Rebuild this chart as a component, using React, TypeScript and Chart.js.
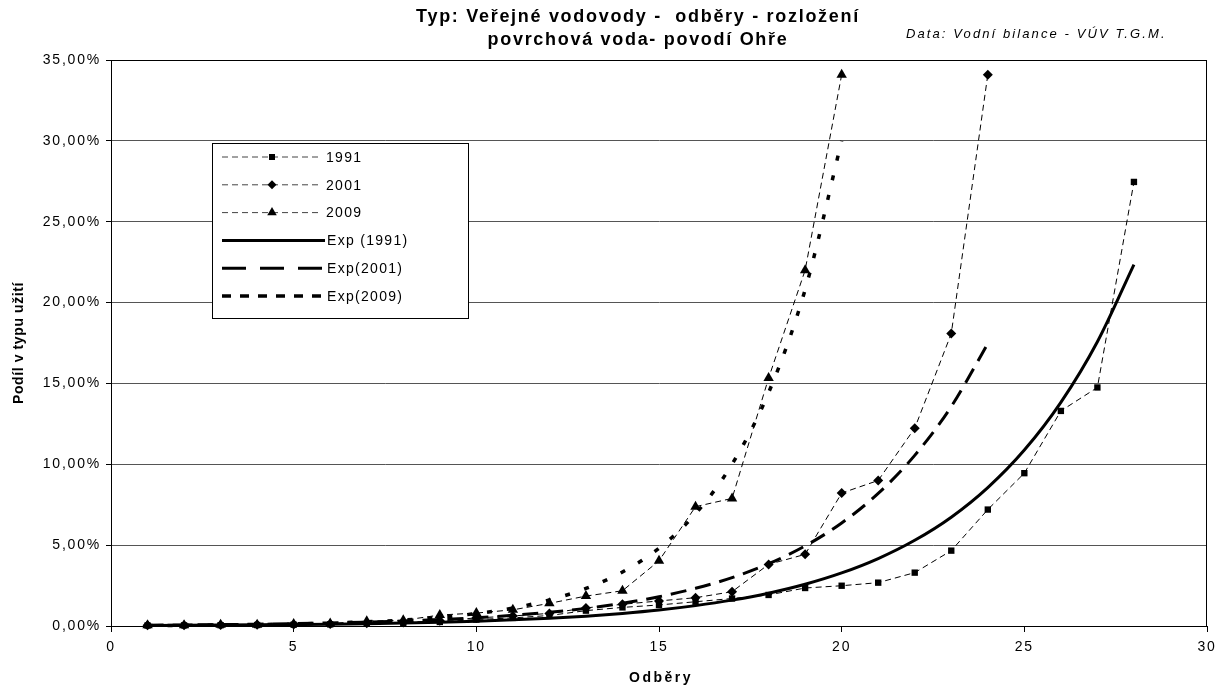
import React, { useEffect, useRef } from "react";
import { Chart, registerables } from "chart.js";

Chart.register(...registerables);

// Odběry (x positions)
const odbery = [1, 2, 3, 4, 5, 6, 7, 8, 9, 10, 11, 12, 13, 14, 15, 16, 17, 18, 19, 20, 21, 22, 23, 24, 25, 26, 27, 28];

// Podíl v typu užití [%]
const values1991 = [0.03, 0.04, 0.05, 0.06, 0.08, 0.1, 0.14, 0.18, 0.25, 0.4, 0.5, 0.65, 0.95, 1.15, 1.3, 1.5, 1.7, 1.92, 2.35, 2.49, 2.68, 3.3, 4.66, 7.2, 9.45, 13.3, 14.75, 27.46];
const values2001 = [0.04, 0.05, 0.06, 0.08, 0.1, 0.13, 0.17, 0.22, 0.32, 0.5, 0.62, 0.78, 1.12, 1.34, 1.55, 1.75, 2.12, 3.81, 4.43, 8.22, 9.0, 12.23, 18.08, 34.09];
const values2009 = [0.05, 0.05, 0.07, 0.08, 0.12, 0.16, 0.3, 0.35, 0.68, 0.8, 1.0, 1.4, 1.85, 2.18, 4.03, 7.38, 7.89, 15.33, 22.0, 34.09];

// Exponential trend lines
const exp1991 = [0.034, 0.043, 0.055, 0.07, 0.089, 0.11, 0.14, 0.18, 0.23, 0.3, 0.38, 0.48, 0.61, 0.78, 0.99, 1.26, 1.6, 2.03, 2.58, 3.28, 4.17, 5.3, 6.73, 8.56, 10.88, 13.83, 17.58, 22.35];
const exp2001 = [0.053, 0.069, 0.088, 0.114, 0.146, 0.19, 0.24, 0.31, 0.4, 0.51, 0.66, 0.85, 1.09, 1.41, 1.81, 2.33, 2.99, 3.85, 4.95, 6.37, 8.2, 10.55, 13.57, 17.46];
const exp2009 = [0.029, 0.042, 0.06, 0.087, 0.125, 0.18, 0.26, 0.37, 0.54, 0.77, 1.11, 1.61, 2.32, 3.34, 4.81, 6.94, 10.01, 14.43, 20.8, 30.0];

const seriesLabels = ["1991", "2001", "2009", "Exp (1991)", "Exp(2001)", "Exp(2009)"];
const xTicks = [0, 5, 10, 15, 20, 25, 30];
const yTicks = [0, 5, 10, 15, 20, 25, 30, 35];

const titleLine1 = "Typ: Veřejné vodovody -  odběry - rozložení";
const titleLine2 = "povrchová voda- povodí Ohře";
const sourceText = "Data: Vodní bilance - VÚV T.G.M.";
const xTitle = "Odběry";
const yTitle = "Podíl v typu užití";

const FONT = "'Liberation Sans', Arial, sans-serif";

const toPoints = (vals: number[]) => vals.map((v, i) => ({ x: odbery[i], y: v }));

type Sty = { dash: number[]; width: number; marker: string | null; legendDash: number[] };
const styles: Sty[] = [
  { dash: [6, 4], width: 1, marker: "rect", legendDash: [6, 4] },
  { dash: [6, 4], width: 1, marker: "rectRot", legendDash: [6, 4] },
  { dash: [6, 4], width: 1, marker: "triangle", legendDash: [6, 4] },
  { dash: [], width: 3, marker: null, legendDash: [] },
  { dash: [16, 9], width: 3, marker: null, legendDash: [24, 14] },
  { dash: [5, 15], width: 3.5, marker: null, legendDash: [9, 9] },
];

function drawMarker(ctx: CanvasRenderingContext2D, kind: string, x: number, y: number) {
  ctx.beginPath();
  if (kind === "rect") {
    ctx.rect(x - 3, y - 3, 6, 6);
  } else if (kind === "rectRot") {
    ctx.moveTo(x - 4.5, y);
    ctx.lineTo(x, y - 4.5);
    ctx.lineTo(x + 4.5, y);
    ctx.lineTo(x, y + 4.5);
    ctx.closePath();
  } else {
    const r = 5.5;
    ctx.moveTo(x, y - r);
    ctx.lineTo(x + r * 0.866, y + r * 0.5);
    ctx.lineTo(x - r * 0.866, y + r * 0.5);
    ctx.closePath();
  }
  ctx.fill();
}

const customPlugin = {
  id: "customDecor",
  beforeDraw(chart: any) {
    const ctx = chart.ctx as CanvasRenderingContext2D;
    ctx.save();
    ctx.fillStyle = "#fff";
    ctx.fillRect(0, 0, chart.width, chart.height);
    ctx.restore();
    (ctx as any).letterSpacing = "1.8px";
  },
  afterDraw(chart: any) {
    const ctx = chart.ctx as CanvasRenderingContext2D;
    const a = chart.chartArea;
    ctx.save();
    // plot frame
    ctx.strokeStyle = "#000";
    ctx.lineWidth = 1;
    ctx.setLineDash([]);
    ctx.strokeRect(Math.round(a.left) + 0.5, Math.round(a.top) + 0.5, Math.round(a.right - a.left) - 1, Math.round(a.bottom - a.top));

    // legend
    const lx = 212.5, ly = 143.5, lw = 256, lh = 175;
    ctx.fillStyle = "#fff";
    ctx.fillRect(lx, ly, lw, lh);
    ctx.strokeRect(lx, ly, lw, lh);
    ctx.textAlign = "left";
    ctx.textBaseline = "middle";
    ctx.font = `14px ${FONT}`;
    (ctx as any).letterSpacing = "1.3px";
    seriesLabels.forEach((lab, i) => {
      const st = styles[i];
      const y = 157 + i * 27.8;
      ctx.strokeStyle = st.marker ? "#444" : "#000";
      ctx.lineWidth = st.width;
      ctx.setLineDash(st.legendDash);
      ctx.lineDashOffset = 0;
      ctx.beginPath();
      ctx.moveTo(222, y);
      ctx.lineTo(st.marker ? 322 : 325, y);
      ctx.stroke();
      ctx.setLineDash([]);
      if (st.marker) {
        ctx.fillStyle = "#000";
        drawMarker(ctx, st.marker, 272, y);
      }
      ctx.fillStyle = "#000";
      ctx.fillText(lab, st.marker ? 326 : 327, y + 1);
    });

    // titles
    ctx.fillStyle = "#000";
    ctx.textAlign = "center";
    ctx.font = `bold 18px ${FONT}`;
    (ctx as any).letterSpacing = "1.7px";
    ctx.fillText(titleLine1, 638, 17);
    ctx.fillText(titleLine2, 638, 40);

    ctx.textAlign = "left";
    ctx.font = `italic 13px ${FONT}`;
    (ctx as any).letterSpacing = "2.1px";
    ctx.fillText(sourceText, 906, 34);

    // axis titles
    ctx.textAlign = "center";
    ctx.font = `bold 14px ${FONT}`;
    (ctx as any).letterSpacing = "2.5px";
    ctx.fillText(xTitle, (a.left + a.right) / 2 + 2, 678);

    ctx.save();
    ctx.translate(19, (a.top + a.bottom) / 2);
    ctx.rotate(-Math.PI / 2);
    (ctx as any).letterSpacing = "0.6px";
    ctx.fillText(yTitle, 0, 0);
    ctx.restore();

    ctx.restore();
  },
};

export default function App() {
  const canvasRef = useRef<HTMLCanvasElement | null>(null);

  useEffect(() => {
    if (!canvasRef.current) return;
    const seriesData = [values1991, values2001, values2009, exp1991, exp2001, exp2009];
    const datasets = seriesData.map((vals, i) => {
      const st = styles[i];
      return {
        label: seriesLabels[i],
        data: toPoints(vals),
        borderColor: "#000",
        backgroundColor: "#000",
        borderWidth: st.width,
        borderDash: st.dash,
        pointStyle: st.marker || "circle",
        pointRadius: st.marker ? (st.marker === "rect" ? 4.5 : st.marker === "rectRot" ? 5 : 6) : 0,
        pointBackgroundColor: "#000",
        pointBorderColor: "#000",
        pointBorderWidth: 0,
        pointHoverRadius: 0,
        fill: false,
        tension: st.marker ? 0 : 0.4,
        cubicInterpolationMode: st.marker ? "default" : "monotone",
        borderCapStyle: "butt",
        clip: false,
      } as any;
    });

    const chart = new Chart(canvasRef.current, {
      type: "line",
      data: { datasets },
      options: {
        animation: false,
        responsive: false,
        devicePixelRatio: 1,
        events: [],
        layout: { padding: { top: 60, right: 20, bottom: 0, left: 0 } },
        plugins: {
          legend: { display: false },
          title: { display: false },
          tooltip: { enabled: false },
        },
        scales: {
          x: {
            type: "linear",
            min: xTicks[0],
            max: xTicks[xTicks.length - 1],
            afterBuildTicks: (s: any) => {
              s.ticks = xTicks.map((v) => ({ value: v }));
            },
            ticks: {
              color: "#000",
              font: { family: FONT, size: 14 },
              padding: 7,
              maxRotation: 0,
              autoSkip: false,
            },
            grid: { drawOnChartArea: false, tickLength: 6, tickColor: "#000", color: "#000" },
            border: { color: "#000", width: 1 },
            afterFit: (s: any) => {
              s.height = 65;
            },
          },
          y: {
            type: "linear",
            min: yTicks[0],
            max: yTicks[yTicks.length - 1],
            afterBuildTicks: (s: any) => {
              s.ticks = yTicks.map((v) => ({ value: v }));
            },
            ticks: {
              color: "#000",
              font: { family: FONT, size: 14 },
              padding: 5,
              autoSkip: false,
              callback: (v: any) => Number(v).toFixed(2).replace(".", ",") + "%",
            },
            grid: { color: "#555", lineWidth: 1, tickLength: 5, tickColor: "#000" },
            border: { color: "#000", width: 1 },
            afterFit: (s: any) => {
              s.width = 111;
            },
          },
        },
      } as any,
      plugins: [customPlugin],
    });
    return () => chart.destroy();
  }, []);

  return (
    <div style={{ position: "absolute", left: 0, top: 0, width: 1227, height: 691, background: "#fff" }}>
      <canvas ref={canvasRef} width={1227} height={691} style={{ display: "block" }} />
    </div>
  );
}
